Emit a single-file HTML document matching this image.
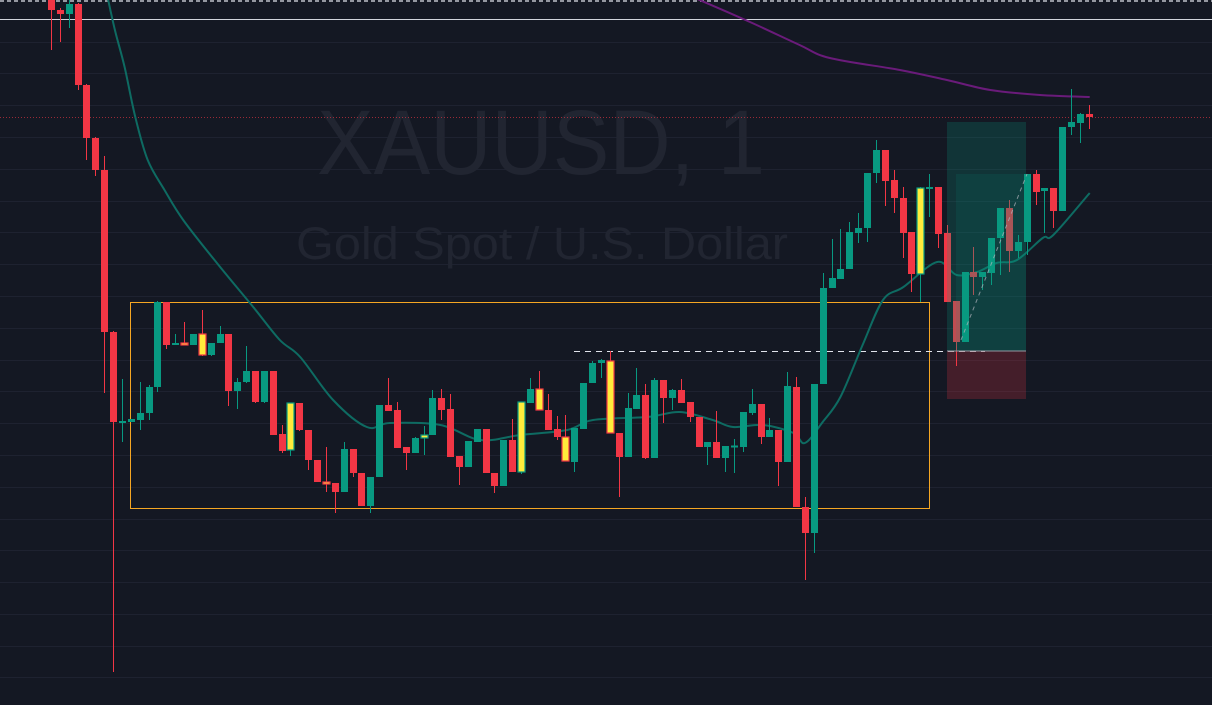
<!DOCTYPE html>
<html><head><meta charset="utf-8"><style>
html,body{margin:0;padding:0;background:#141823;}
svg{display:block;}
</style></head><body>
<svg id="chart" width="1212" height="705" viewBox="0 0 1212 705" xmlns="http://www.w3.org/2000/svg">
<rect x="0" y="0" width="1212" height="705" fill="#141823"/>
<g id="grid"></g>
<text x="317" y="174" font-family="'Liberation Sans',sans-serif" font-size="92" fill="#212531" textLength="448" lengthAdjust="spacingAndGlyphs">XAUUSD, 1</text>
<text x="296" y="259" font-family="'Liberation Sans',sans-serif" font-size="45" fill="#212531" textLength="492" lengthAdjust="spacingAndGlyphs">Gold Spot / U.S. Dollar</text>
<line x1="0" y1="1" x2="1212" y2="1" stroke="#9598a1" stroke-width="2" stroke-dasharray="4,3"/>
<line x1="0" y1="19.5" x2="1212" y2="19.5" stroke="#d1d4dc" stroke-width="1"/>
<line x1="0" y1="117.5" x2="1212" y2="117.5" stroke="#f23645" stroke-width="1" stroke-dasharray="1,2" opacity="0.6"/>
<rect x="130.5" y="302.5" width="799" height="206" fill="none" stroke="#f5a623" stroke-width="1"/>
<line x1="574" y1="351.5" x2="985" y2="351.5" stroke="#e0e3eb" stroke-width="1" stroke-dasharray="6,5"/>
<g id="lines"></g>
<g id="candles"></g>
<g>
<rect x="947" y="122" width="79" height="229" fill="rgba(8,153,129,0.22)"/>
<rect x="956" y="174" width="70" height="177" fill="rgba(8,153,129,0.12)"/>
<rect x="947" y="351" width="79" height="48" fill="rgba(242,54,69,0.22)"/>
<line x1="947" y1="351" x2="1026" y2="351" stroke="#9598a1" stroke-width="1"/>
<line x1="961" y1="340" x2="1027" y2="174" stroke="#b2b5be" stroke-width="1" stroke-dasharray="4,4" opacity="0.7"/>
</g>
</svg>
<script>
const opens=[2400.0,2399.0,2398.6,2399.6,2391.5,2386.2,2383.0,2366.8,2357.8,2357.8,2358.0,2358.7,2361.3,2369.8,2365.5,2365.7,2365.5,2366.6,2364.5,2365.7,2366.6,2360.9,2361.8,2362.9,2359.8,2362.9,2356.6,2355.0,2359.7,2357.0,2354.0,2351.8,2351.7,2350.8,2355.1,2352.7,2349.4,2352.3,2359.5,2359.0,2355.3,2354.7,2356.2,2356.5,2360.2,2359.1,2354.4,2353.3,2355.8,2357.1,2352.7,2351.4,2356.0,2352.8,2359.7,2361.1,2359.0,2357.1,2356.3,2353.8,2357.1,2361.7,2363.7,2363.9,2356.7,2354.3,2359.1,2360.5,2354.2,2362.0,2360.2,2361.0,2359.8,2358.3,2355.3,2355.8,2354.2,2355.4,2355.3,2358.7,2359.6,2356.3,2357.0,2353.8,2361.3,2349.3,2346.7,2361.6,2371.2,2372.1,2373.1,2376.7,2377.2,2382.7,2385.0,2382.0,2380.2,2376.8,2372.6,2381.1,2381.3,2376.7,2369.9,2365.8,2372.8,2372.3,2372.7,2376.2,2379.2,2374.9,2375.8,2382.6,2380.9,2381.2,2378.9,2387.3,2387.7,2388.6];
const closes=[2399.0,2398.6,2399.6,2391.5,2386.2,2383.0,2366.8,2357.8,2357.9,2358.1,2358.7,2361.3,2369.8,2365.5,2365.7,2365.5,2366.6,2364.5,2365.7,2366.6,2360.9,2361.8,2362.9,2359.8,2362.9,2356.5,2354.9,2359.7,2357.0,2354.0,2351.8,2351.6,2350.8,2355.1,2352.7,2349.4,2352.3,2359.5,2358.9,2355.2,2354.7,2356.2,2356.5,2360.2,2359.0,2354.3,2353.3,2355.9,2357.1,2352.7,2351.4,2356.0,2352.8,2359.8,2361.1,2359.0,2357.0,2356.3,2353.9,2357.2,2361.7,2363.7,2364.0,2356.7,2354.3,2359.2,2360.5,2354.2,2362.0,2360.2,2361.0,2359.7,2358.3,2355.3,2355.8,2354.2,2355.4,2355.45,2358.8,2359.6,2356.3,2357.0,2353.8,2361.4,2349.3,2346.7,2361.6,2371.2,2372.2,2373.1,2376.8,2377.2,2382.7,2385.0,2381.9,2380.2,2376.7,2372.6,2381.2,2381.3,2376.6,2369.8,2365.8,2372.8,2372.3,2372.8,2376.2,2379.2,2374.9,2375.8,2382.6,2380.8,2381.2,2378.9,2387.3,2387.8,2388.6,2388.3];
const highs=[2400.5,2399.2,2400.0,2399.7,2391.6,2386.3,2384.4,2366.9,2362.1,2358.1,2361.8,2361.5,2369.9,2369.8,2366.6,2367.8,2366.6,2369.0,2365.7,2367.4,2366.6,2362.2,2365.4,2362.9,2362.9,2362.9,2357.5,2359.7,2359.7,2357.0,2354.0,2355.3,2351.7,2355.8,2355.1,2352.7,2352.3,2359.5,2362.2,2359.8,2355.3,2356.3,2357.4,2361.0,2361.1,2360.6,2354.4,2355.9,2357.1,2357.1,2352.7,2356.0,2358.1,2359.8,2362.2,2362.9,2360.6,2358.4,2358.5,2357.2,2361.7,2363.9,2364.1,2364.9,2356.7,2360.7,2363.2,2361.6,2362.2,2362.0,2361.1,2362.1,2359.8,2358.3,2355.8,2358.9,2355.4,2356.1,2358.8,2361.1,2359.6,2358.2,2357.0,2362.8,2362.3,2350.3,2361.6,2372.7,2376.1,2377.1,2377.8,2378.7,2382.7,2386.0,2385.0,2383.0,2381.3,2376.8,2381.3,2382.6,2381.3,2377.5,2369.9,2372.8,2375.3,2372.8,2376.2,2379.2,2380.0,2376.5,2382.6,2383.0,2381.2,2381.2,2387.3,2391.1,2388.7,2389.5];
const lows=[2395.0,2395.8,2397.2,2391.0,2384.0,2382.4,2360.7,2332.8,2355.8,2357.8,2357.0,2358.0,2360.8,2365.1,2365.5,2365.5,2365.5,2364.4,2364.4,2365.7,2359.4,2359.1,2361.7,2359.7,2359.7,2356.5,2354.7,2354.4,2356.9,2353.0,2351.8,2350.8,2348.7,2350.8,2352.3,2349.4,2348.7,2352.3,2358.9,2355.2,2353.0,2354.7,2354.5,2356.5,2358.0,2354.3,2351.5,2353.3,2355.8,2352.7,2350.7,2351.4,2352.8,2352.6,2359.7,2359.0,2357.0,2356.0,2353.9,2352.8,2357.1,2361.7,2362.2,2356.7,2350.3,2354.3,2359.1,2354.1,2354.2,2357.7,2359.0,2359.7,2357.8,2355.3,2353.5,2354.2,2352.8,2352.7,2354.8,2358.5,2355.6,2356.3,2351.4,2353.8,2349.3,2342.0,2344.7,2361.6,2371.2,2372.1,2373.1,2375.7,2375.8,2381.7,2379.4,2378.7,2374.2,2370.8,2369.8,2378.3,2375.2,2369.8,2363.4,2365.8,2370.5,2371.0,2371.5,2372.5,2372.8,2374.2,2374.5,2379.5,2376.7,2377.2,2378.9,2386.5,2385.7,2387.1];
const highlighted=[15,17,27,31,42,53,55,58,63,98];
const maIdx=[6.2,7.2,8.3,9.5,10.9,12.8,14.9,18.7,22.8,25.8,28.1,31.8,35.6,38.2,43.9,48.4,52.9,58.2,61.1,67.2,70.9,74.6,76.9,80.3,83.7,85.0,87.0,89.0,91.5,93.8,96.1,99.9,102.1,104.4,106.6,108.9,111.8,113.0,117.1];
const maVal=[2401.0,2397.0,2393.3,2388.3,2384.0,2381.0,2378.0,2373.7,2369.3,2366.0,2364.3,2360.0,2357.3,2357.7,2357.5,2356.0,2356.5,2357.0,2358.0,2358.3,2358.8,2358.0,2357.3,2357.5,2356.7,2355.7,2357.8,2360.3,2365.5,2370.0,2371.3,2373.8,2372.5,2372.8,2373.7,2374.0,2376.2,2376.5,2380.7];
const ma2Idx=[72.6,78.8,84.4,87.8,95.7,101.0,105.9,111.5,117.1];
const ma2Val=[2400.2,2397.8,2395.5,2394.2,2393.0,2392.0,2391.0,2390.5,2390.3];

const NS='http://www.w3.org/2000/svg';
const X0=51, STEP=8.87, PTOP=2400, PXPER=10;
function xS(i){return X0+i*STEP;}
function yS(p){return (PTOP-p)*PXPER;}
const GREEN='#089981', RED='#f23645';

const grid=document.getElementById('grid');
for(let y=41.5;y<705;y+=31.8){
  const l=document.createElementNS(NS,'line');
  
  
  l.setAttribute('x1',0);l.setAttribute('x2',1212);
  l.setAttribute('y1',Math.round(y)+0.5);l.setAttribute('y2',Math.round(y)+0.5);
  l.setAttribute('stroke','#1e2230');l.setAttribute('stroke-width','1');
  grid.appendChild(l);
}

const lines=document.getElementById('lines');
function smoothPath(idx,val){
  const pts=idx.map((v,k)=>[xS(v),yS(val[k])]);
  let d='M'+pts[0][0].toFixed(1)+','+pts[0][1].toFixed(1);
  for(let k=0;k<pts.length-1;k++){
    const p0=pts[Math.max(0,k-1)],p1=pts[k],p2=pts[k+1],p3=pts[Math.min(pts.length-1,k+2)];
    const c1=[p1[0]+(p2[0]-p0[0])/6,p1[1]+(p2[1]-p0[1])/6];
    const c2=[p2[0]-(p3[0]-p1[0])/6,p2[1]-(p3[1]-p1[1])/6];
    d+=' C'+c1.map(n=>n.toFixed(1)).join(',')+' '+c2.map(n=>n.toFixed(1)).join(',')+' '+p2[0].toFixed(1)+','+p2[1].toFixed(1);
  }
  return d;
}
function line(idx,val,color,w,name){
  const p=document.createElementNS(NS,'path');
  
  
  p.setAttribute('d',smoothPath(idx,val));
  p.setAttribute('fill','none');p.setAttribute('stroke',color);p.setAttribute('stroke-width',w);
  lines.appendChild(p);
}
line(maIdx,maVal,'#0e6b62',2,'moving-average-fast');
line(ma2Idx,ma2Val,'#6a1b7a',2,'moving-average-slow');

const cg=document.getElementById('candles');
for(let i=0;i<opens.length;i++){
  const o=opens[i],c=closes[i],h=highs[i],l=lows[i];
  const up=c>=o; const col=up?GREEN:RED;
  const x=xS(i);
  const g=document.createElementNS(NS,'g');
  
  
  const w=document.createElementNS(NS,'line');
  
  
  w.setAttribute('x1',Math.round(x)+0.5);w.setAttribute('x2',Math.round(x)+0.5);
  w.setAttribute('y1',yS(h));w.setAttribute('y2',yS(l));
  w.setAttribute('stroke',col);w.setAttribute('stroke-width','1');
  g.appendChild(w);
  const top=yS(Math.max(o,c)), bot=yS(Math.min(o,c));
  const b=document.createElementNS(NS,'rect');
  
  
  const hl=highlighted.includes(i);
  b.setAttribute('x',Math.round(x)-3);b.setAttribute('width',7);
  b.setAttribute('y',top);b.setAttribute('height',Math.max(2,bot-top));
  if(hl){
    b.setAttribute('fill','#ffeb3b');b.setAttribute('stroke',col);b.setAttribute('stroke-width','1.2');
  } else b.setAttribute('fill',col);
  g.appendChild(b);
  cg.appendChild(g);
}
</script>
</body></html>
